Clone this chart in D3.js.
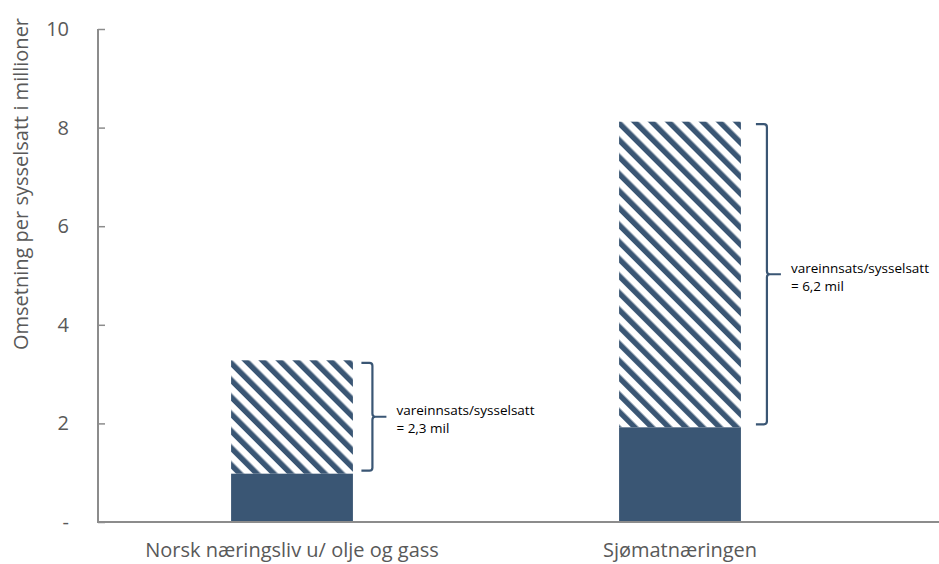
<!DOCTYPE html>
<html><head><meta charset="utf-8">
<script src="https://cdn.jsdelivr.net/npm/d3@7"></script>
<style>body{margin:0;background:#fff}svg{display:block}</style>
</head><body>
<svg id="c" width="939" height="564"></svg>
<script>
const categories = ["Norsk næringsliv u/ olje og gass", "Sjømatnæringen"];
const baseValues = [0.98, 1.92];
const inputValues = [2.3, 6.2];
const braceLabels = ["= 2,3 mil", "= 6,2 mil"];
const braceTitle = "vareinnsats/sysselsatt";
const yTicks = [0, 2, 4, 6, 8, 10];
const yTickLabels = ["-", "2", "4", "6", "8", "10"];
const yTitle = "Omsetning per sysselsatt i millioner";

const color = "#3a5674";
const axisColor = "#8c8c8c";
const textColor = "#595959";
const W = 939, H = 564;
const svg = d3.select("#c");
const x0 = 98, x1 = 874, yTop = 29, yBot = 522;
const braceGap = [19.5, 26];

const x = d3.scaleBand().domain(categories).range([x0, x1]).paddingInner(0.686).paddingOuter(0.343);
const y = d3.scaleLinear().domain([0, 10]).range([yBot, yTop]);

const defs = svg.append("defs");
const pat = defs.append("pattern").attr("id", "hatch").attr("patternUnits", "userSpaceOnUse")
  .attr("width", 12).attr("height", 12).attr("patternTransform", "rotate(-45)");
pat.append("rect").attr("width", 12).attr("height", 12).attr("fill", "#fff");
pat.append("rect").attr("x", 0).attr("y", 0).attr("width", 5.5).attr("height", 12).attr("fill", color);

// bars
const g = svg.append("g");
categories.forEach((c, i) => {
  const bx = x(c), bw = x.bandwidth();
  g.append("rect").attr("x", bx).attr("width", bw)
    .attr("y", y(baseValues[i] + inputValues[i])).attr("height", y(baseValues[i]) - y(baseValues[i] + inputValues[i]))
    .attr("fill", "url(#hatch)");
  g.append("rect").attr("x", bx).attr("width", bw)
    .attr("y", y(baseValues[i])).attr("height", y(0) - y(baseValues[i]))
    .attr("fill", color);
  // brace
  const top = y(baseValues[i] + inputValues[i]) + 2.5, bot = y(baseValues[i]) - 3;
  const vx = bx + bw + braceGap[i], hx = vx - 11, tip = vx + 14, mid = (top + bot) / 2;
  const r = 3;
  const p = d3.path();
  p.moveTo(hx, top); p.lineTo(vx - r, top); p.quadraticCurveTo(vx, top, vx, top + r);
  p.lineTo(vx, mid - r); p.quadraticCurveTo(vx, mid, vx + r, mid); p.lineTo(tip, mid);
  p.moveTo(vx + r, mid); p.quadraticCurveTo(vx, mid, vx, mid + r);
  p.lineTo(vx, bot - r); p.quadraticCurveTo(vx, bot, vx - r, bot); p.lineTo(hx, bot);
  g.append("path").attr("d", p.toString()).attr("fill", "none").attr("stroke", color).attr("stroke-width", 2.2);
  const t = g.append("text").attr("font-family", "Open Sans, sans-serif").attr("font-size", 13.5).attr("fill", "#000");
  t.append("tspan").attr("x", tip + 10).attr("y", mid - 1.5).text(braceTitle);
  t.append("tspan").attr("x", tip + 10).attr("y", mid + 16.5).text(braceLabels[i]);
});

// axes
const yAxis = d3.axisLeft(y).tickValues(yTicks).tickFormat((d, i) => yTickLabels[i]).tickSize(-7).tickPadding(28);
const ya = svg.append("g").attr("transform", `translate(${x0},0)`).call(yAxis);
ya.select(".domain").remove();
ya.selectAll(".tick line").attr("stroke", axisColor).attr("stroke-width", 1.5);
ya.selectAll(".tick text").attr("fill", textColor).attr("font-family", "Open Sans, sans-serif").attr("font-size", 20).attr("x", -29);
svg.append("line").attr("x1", x0).attr("x2", x0).attr("y1", yTop).attr("y2", yBot).attr("stroke", axisColor).attr("stroke-width", 2);
svg.append("line").attr("x1", x0 - 1).attr("x2", W).attr("y1", yBot).attr("y2", yBot).attr("stroke", axisColor).attr("stroke-width", 2);

const xAxis = d3.axisBottom(x).tickSize(0).tickPadding(21);
const xa = svg.append("g").attr("transform", `translate(0,${yBot})`).call(xAxis);
xa.select(".domain").remove();
xa.selectAll(".tick text").attr("fill", textColor).attr("font-family", "Open Sans, sans-serif").attr("font-size", 20);

svg.append("text").attr("transform", `translate(28,184) rotate(-90)`).attr("text-anchor", "middle")
  .attr("font-family", "Open Sans, sans-serif").attr("font-size", 20).attr("fill", textColor).text(yTitle);
</script>
</body></html>
